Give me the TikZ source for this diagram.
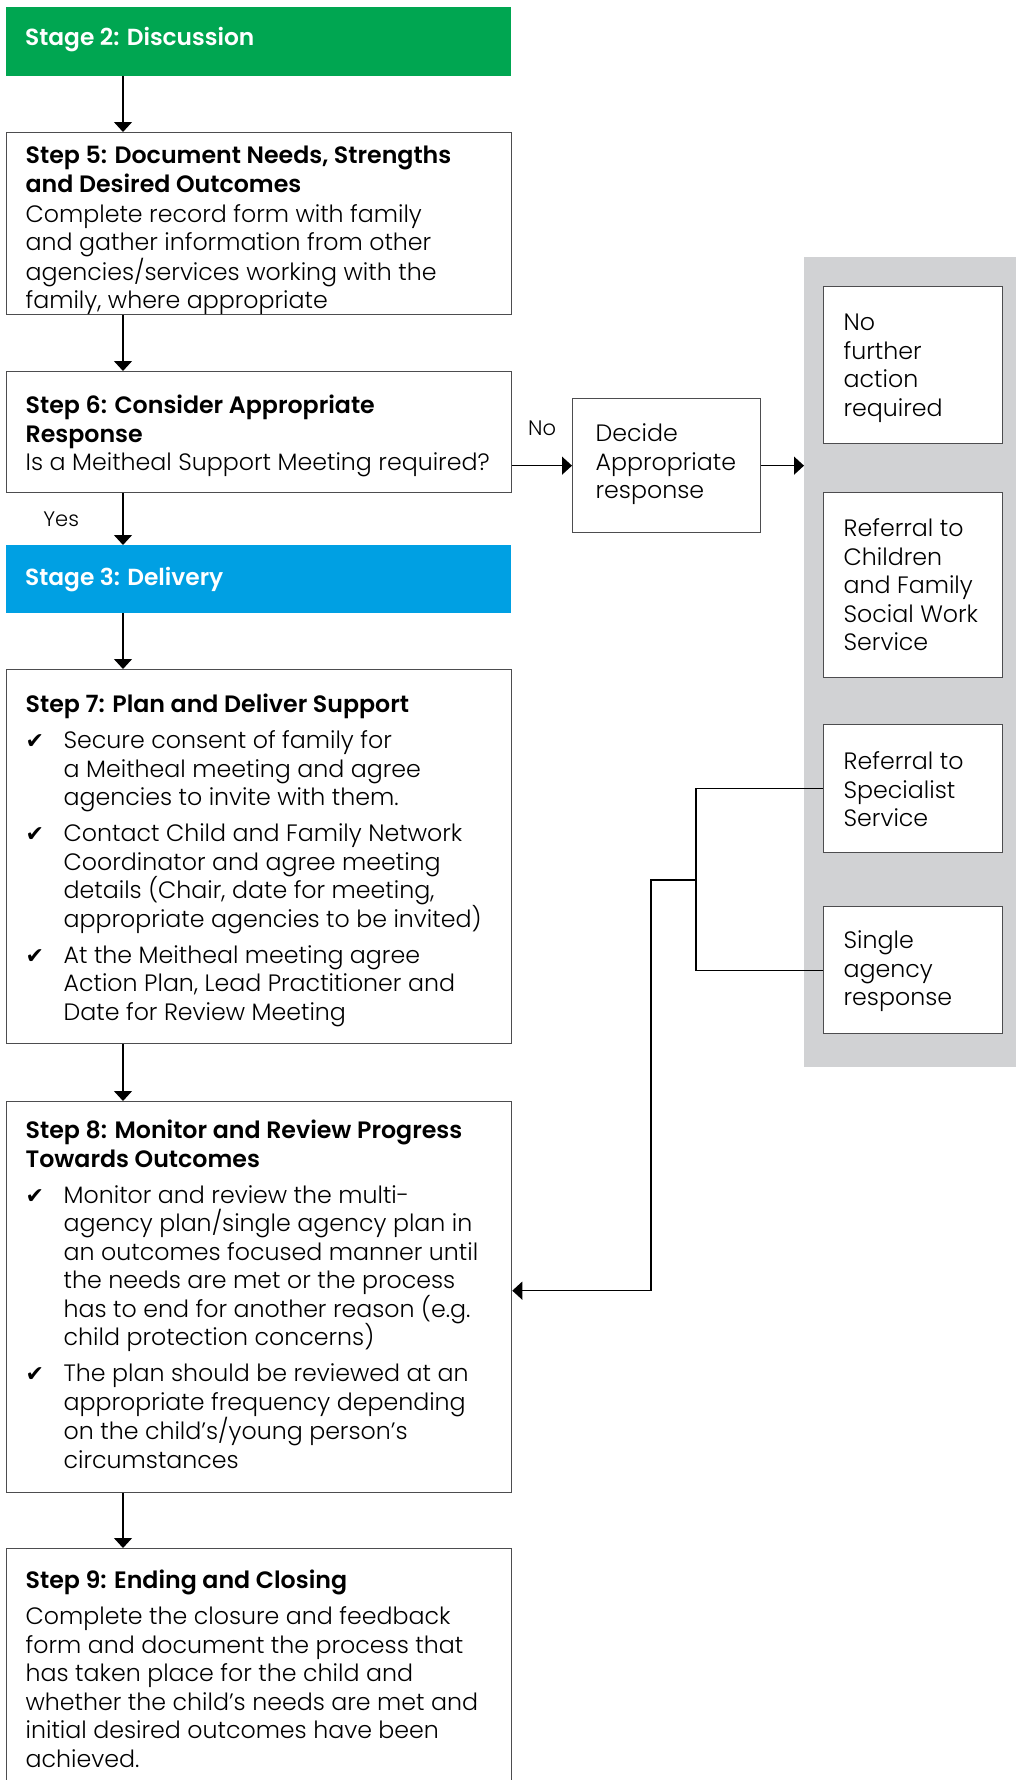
\documentclass[tikz,border=0pt]{standalone}
\usepackage{fontspec}
\setmainfont{Poppins}[UprightFont={Poppins Light}, BoldFont={Poppins SemiBold}]
\newfontfamily\symfont{DejaVu Sans}
\usetikzlibrary{arrows.meta,positioning}

\definecolor{stagegreen}{RGB}{0,166,81}
\definecolor{stageblue}{RGB}{0,160,227}
\definecolor{panelgrey}{RGB}{209,210,212}
\definecolor{edgegrey}{RGB}{77,77,79}

% one line of text, one line with a tick, one continued line
\newlength{\rowwd}
\newcommand{\row}[1]{\hbox to\rowwd{#1\hss}}
\newcommand{\tick}[1]{\hbox to\rowwd{\hbox to 38pt{{\symfont\fontsize{22}{22}\selectfont ✔}\hss}#1\hss}}
\newcommand{\more}[1]{\hbox to\rowwd{\hskip 38pt #1\hss}}
\newcommand{\gap}{\vskip 7.5pt}
\newcommand{\lines}[2]{\setlength{\rowwd}{#1}\vtop{\hsize=\rowwd #2}}

\tikzset{
  stepbox/.style 2 args={draw=edgegrey, line width=1.3pt, fill=white, anchor=north west,
    inner xsep=19pt, inner ysep=0pt, text height=#1, text depth=#2,
    font=\fontsize{23.7}{28.5}\selectfont},
  optbox/.style 2 args={stepbox={#1}{#2}, inner xsep=20pt},
  stagebar/.style={anchor=north west, inner xsep=19pt, inner ysep=0pt, text=white,
    font=\bfseries\fontsize{23.3}{28.5}\selectfont},
  flow/.style={-{Triangle[width=18pt,length=10pt]}, line width=1.3pt},
  link/.style={line width=1.3pt},
  answer/.style={font=\fontsize{21}{24}\selectfont}
}

\begin{document}
\begin{tikzpicture}[x=1pt, y=-1pt]
\useasboundingbox (0,0) rectangle (1015,1780);
\coordinate (spine) at (123,0);

% stages and steps down the left
\node[stagebar, fill=stagegreen, text height=38pt, text depth=31pt] (stage2) at (6,7)
  {\lines{467pt}{\row{Stage 2: Discussion}}};

\node[stepbox={31pt}{151pt}] (s5) at (6,132) {\lines{467pt}{%
  \row{\bfseries Step 5: Document Needs, Strengths}
  \row{\bfseries and Desired Outcomes}
  \vskip 1.5pt
  \row{Complete record form with family}
  \row{and gather information from other}
  \row{agencies/services working with the}
  \row{family, where appropriate}}};

\node[stepbox={42pt}{79pt}] (s6) at (6,371) {\lines{467pt}{%
  \row{\bfseries Step 6: Consider Appropriate}
  \row{\bfseries Response}
  \row{Is a Meitheal Support Meeting required?}}};

\node[stagebar, fill=stageblue, text height=40pt, text depth=28pt] (stage3) at (6,545)
  {\lines{467pt}{\row{Stage 3: Delivery}}};

\node[stepbox={43pt}{331pt}] (s7) at (6,669) {\lines{467pt}{%
  \row{\bfseries Step 7: Plan and Deliver Support}
  \gap
  \tick{Secure consent of family for}
  \more{a Meitheal meeting and agree}
  \more{agencies to invite with them.}
  \gap
  \tick{Contact Child and Family Network}
  \more{Coordinator and agree meeting}
  \more{details (Chair, date for meeting,}
  \more{appropriate agencies to be invited)}
  \gap
  \tick{At the Meitheal meeting agree}
  \more{Action Plan, Lead Practitioner and}
  \more{Date for Review Meeting}}};

\node[stepbox={37pt}{354pt}] (s8) at (6,1101) {\lines{467pt}{%
  \row{\bfseries Step 8: Monitor and Review Progress}
  \row{\bfseries Towards Outcomes}
  \gap
  \tick{Monitor and review the multi-}
  \more{agency plan/single agency plan in}
  \more{an outcomes focused manner until}
  \more{the needs are met or the process}
  \more{has to end for another reason (e.g.}
  \more{child protection concerns)}
  \gap
  \tick{The plan should be reviewed at an}
  \more{appropriate frequency depending}
  \more{on the child’s/young person’s}
  \more{circumstances}}};

\node[stepbox={40pt}{212pt}] (s9) at (6,1548) {\lines{467pt}{%
  \row{\bfseries Step 9: Ending and Closing}
  \gap
  \row{Complete the closure and feedback}
  \row{form and document the process that}
  \row{has taken place for the child and}
  \row{whether the child’s needs are met and}
  \row{initial desired outcomes have been}
  \row{achieved.}}};

% decision and the grey panel of responses
\node[optbox={43pt}{91pt}, inner xsep=23pt] (dec) at (572,398) {\lines{142pt}{%
  \row{Decide}
  \row{Appropriate}
  \row{response}}};

\node[fill=panelgrey, anchor=north west, minimum width=215pt, minimum height=810pt,
  inner sep=0pt] (panel) at (804,257) {};

\node[optbox={44pt}{113pt}] (nfa) at (823,286) {\lines{139pt}{%
  \row{No}
  \row{further}
  \row{action}
  \row{required}}};

\node[optbox={44pt}{141pt}] (cfs) at (823,492) {\lines{139pt}{%
  \row{Referral to}
  \row{Children}
  \row{and Family}
  \row{Social Work}
  \row{Service}}};

\node[optbox={45pt}{83pt}] (spec) at (823,724) {\lines{139pt}{%
  \row{Referral to}
  \row{Specialist}
  \row{Service}}};

\node[optbox={42pt}{85pt}] (single) at (823,906) {\lines{139pt}{%
  \row{Single}
  \row{agency}
  \row{response}}};

% arrows down the left
\draw[flow] (stage2.south -| spine) -- (s5.north -| spine);
\draw[flow] (s5.south -| spine) -- (s6.north -| spine);
\draw[flow] (s6.south -| spine) -- node[answer, left=40pt] (yes) {Yes} (stage3.north -| spine);
\draw[flow] (stage3.south -| spine) -- (s7.north -| spine);
\draw[flow] (s7.south -| spine) -- (s8.north -| spine);
\draw[flow] (s8.south -| spine) -- (s9.north -| spine);

\draw[flow] (dec.west -| s6.east) -- node[answer, above=26pt] (no) {No} (dec.west);
\draw[flow] (dec.east) -- (dec.east -| panel.west);

% back into step 8
\coordinate (fork) at (696,880);
\coordinate (bend) at (651,880);
\draw[link] (spec.west) -| (fork);
\draw[link] (single.west) -| (fork);
\draw[flow] (fork) -- (bend) |- ([yshift=6.5pt]s8.east);
\end{tikzpicture}
\end{document}
